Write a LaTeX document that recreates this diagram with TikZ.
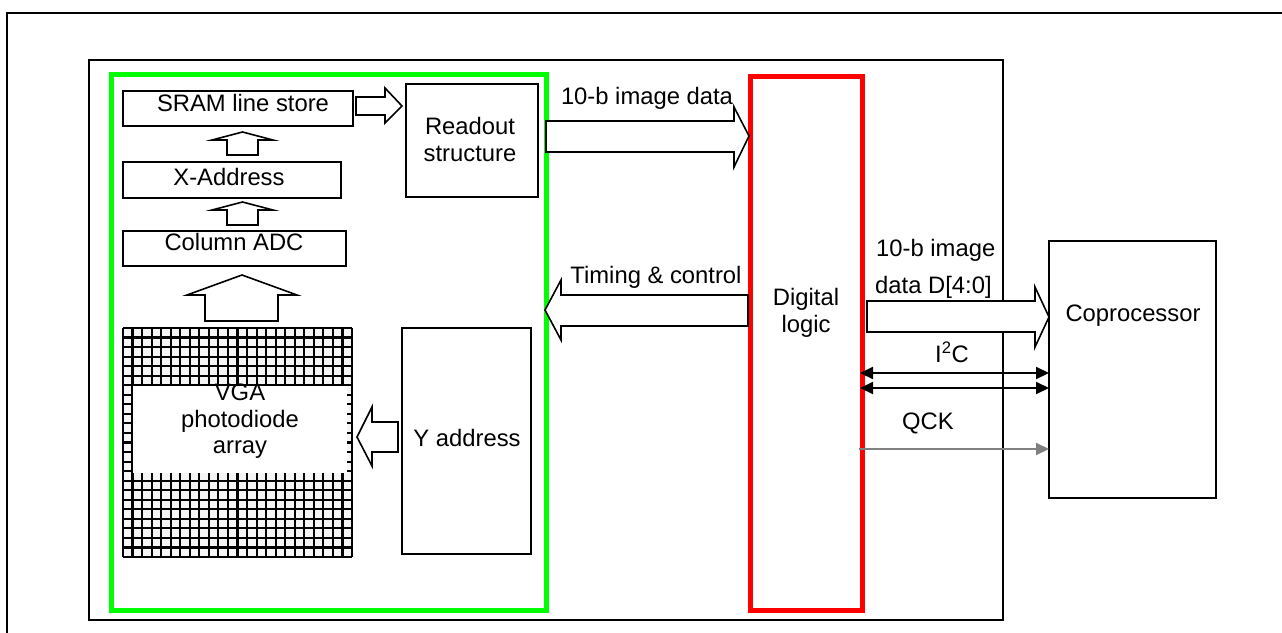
\documentclass[tikz,border=0pt]{standalone}
\usepackage{fontspec}
\setmainfont{Liberation Sans}
\usetikzlibrary{arrows.meta}
\tikzset{
  txt/.style={font=\fontsize{23.8}{27}\selectfont, inner sep=0pt, align=center},
  box/.style={draw=black, line width=2pt, fill=white, inner sep=0pt},
  blockarrow/.style={draw=black, line width=1.6pt, fill=white, line join=miter},
  frameline/.style={draw=black, line width=2pt},
  sig/.style={line width=2pt, {Triangle[length=13pt,width=12pt]}-{Triangle[length=13pt,width=12pt]}},
}
\begin{document}
\begin{tikzpicture}[x=1pt,y=-1pt]
\useasboundingbox (0,0) rectangle (1282,632);
% outer frame (cut by the page)
\draw[frameline] (1290,13) -- (7,13) -- (7,640);
% inner frame
\draw[frameline] (89,60) rectangle (1003,620);
% green and red frames
\draw[line width=5pt, draw={rgb,255:red,0;green,255;blue,0}] (111,74) rectangle (546,610);
\draw[line width=5pt, draw={rgb,255:red,255;green,0;blue,0}] (750,76) rectangle (862,610);

% boxes
\node[box, minimum width=230pt, minimum height=35pt] (sram) at (238,108.5) {};
\node[txt] (sramt) at (243,103) {SRAM line store};
\node[box, minimum width=218pt, minimum height=36pt] (xadr) at (232,180) {};
\node[txt] (xadrt) at (229,176.5) {X-Address};
\node[box, minimum width=223pt, minimum height=35pt] (cadc) at (234.5,248.5) {};
\node[txt] (cadct) at (234,242) {Column ADC};
\node[box, minimum width=132pt, minimum height=113pt] (readout) at (472,140.5) {};
\node[txt] (readoutt) at (470,139) {Readout\\structure};
\node[box, minimum width=129pt, minimum height=226pt] (yadr) at (466.5,441) {};
\node[txt] (yadrt) at (467,438) {Y address};
\node[box, minimum width=167pt, minimum height=257pt] (copro) at (1132.5,369.5) {};
\node[txt] (coprot) at (1133,316) {Coprocessor};

% pixel array
\fill[black!4] (123,328) rectangle (352,557);
\foreach \i in {0,...,24} {
  \draw[line width=2.1pt] ({123+\i*229/24},328) -- ({123+\i*229/24},557);
  \draw[line width=2.1pt] (123,{328+\i*229/24}) -- (352,{328+\i*229/24});
}
\fill[white] (133,386) rectangle (347,473);
\node[txt, font=\fontsize{23.8}{26.5}\selectfont] (vga) at (240,421.5) {VGA\\photodiode\\array};

% digital logic text
\node[txt] (dlt) at (806,313) {Digital\\logic};

% block arrows
\draw[blockarrow] (227,155) -- (227,140) -- (212,140) -- (242.5,132) -- (273,140) -- (258,140) -- (258,155) -- cycle;
\draw[blockarrow] (227,225) -- (227,210) -- (212,210) -- (242.5,202) -- (273,210) -- (258,210) -- (258,225) -- cycle;
\draw[blockarrow] (205,321) -- (205,295) -- (187,295) -- (242,275) -- (297,295) -- (278,295) -- (278,321) -- cycle;
\draw[blockarrow] (356,97) -- (385,97) -- (385,88) -- (402,106) -- (385,123) -- (385,115) -- (356,115) -- cycle;
\draw[blockarrow] (398,422) -- (372,422) -- (372,407) -- (357,437) -- (372,466) -- (372,452) -- (398,452) -- cycle;
\draw[blockarrow] (546,121) -- (734,121) -- (734,107) -- (749,136) -- (734,167) -- (734,152) -- (546,152) -- cycle;
\draw[blockarrow] (748,295) -- (561,295) -- (561,280) -- (545,310) -- (561,340) -- (561,326) -- (748,326) -- cycle;
\draw[blockarrow] (867,301) -- (1035,301) -- (1035,287) -- (1049,317) -- (1035,347) -- (1035,332) -- (867,332) -- cycle;

% labels of block arrows
\node[txt] (imgdata) at (647,98) {10-b image data};
\node[txt] (timing) at (656,277) {Timing \& control};
\node[txt, anchor=west] (img1) at (876,250) {10-b image};
\node[txt, anchor=west] (img2) at (875,287) {data D[4:0]};

% I2C and QCK
\coordinate (i2cL1) at (860,373);
\coordinate (i2cL2) at (860,388);
\coordinate (i2cR1) at (1049,373);
\coordinate (i2cR2) at (1049,388);
\draw[sig] (i2cL1) -- (i2cR1);
\draw[sig] (i2cL2) -- (i2cR2);
\node[txt] (i2c) at (952,352) {I\textsuperscript{2}C};
\coordinate (qckL) at (859,449);
\coordinate (qckR) at (1049,449);
\draw[line width=2pt, -{Triangle[length=13pt,width=12pt]}, color=black!50] (qckL) -- (qckR);
\node[txt] (qck) at (928,423) {QCK};
\end{tikzpicture}
\end{document}
